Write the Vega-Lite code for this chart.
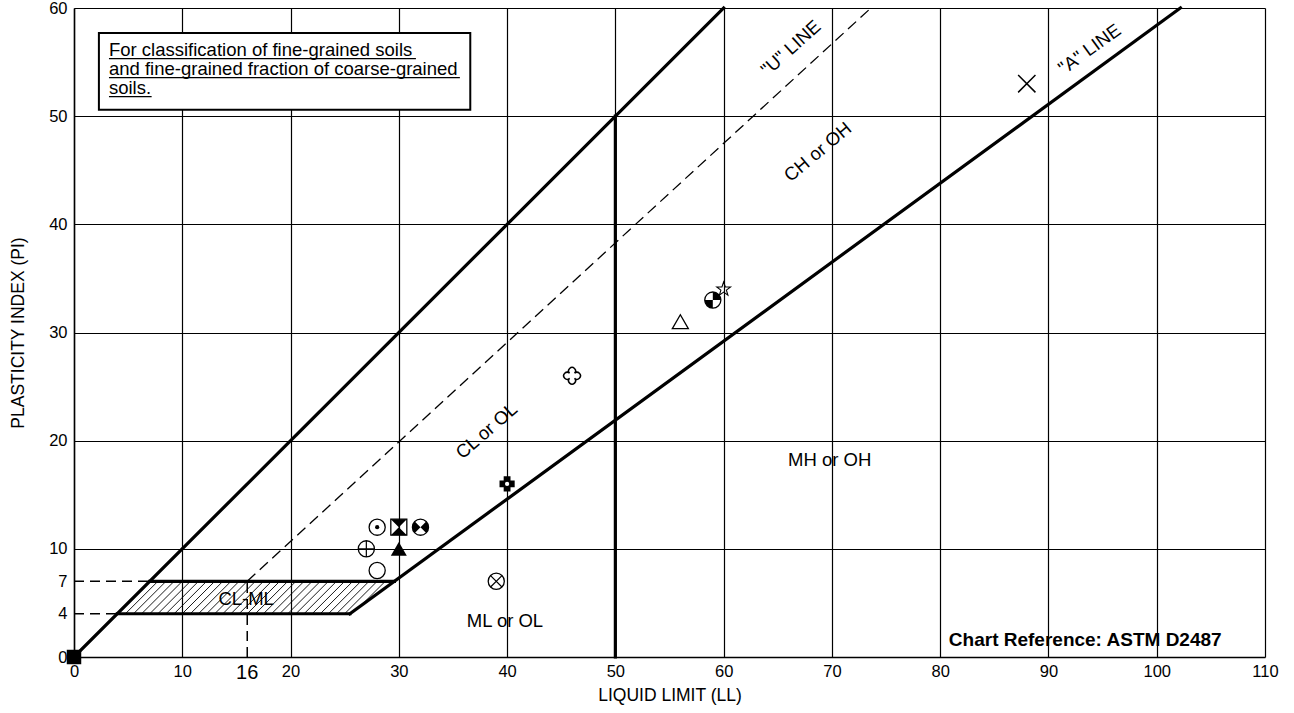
{
  "$schema": "https://vega.github.io/schema/vega-lite/v6.json",
  "width": 1191,
  "height": 649,
  "autosize": {"type": "none"},
  "padding": {"left": 74, "top": 8, "right": 29, "bottom": 56},
  "background": "white",
  "config": {"font": "Liberation Sans", "view": {"stroke": null}},
  "datasets": {
    "samples": [
      {"id": "A", "LL": 0, "PI": 0},
      {"id": "B", "LL": 28, "PI": 12},
      {"id": "C", "LL": 30, "PI": 12},
      {"id": "D", "LL": 32, "PI": 12},
      {"id": "E", "LL": 27, "PI": 10},
      {"id": "F", "LL": 30, "PI": 10},
      {"id": "G", "LL": 28, "PI": 8},
      {"id": "H", "LL": 39, "PI": 7},
      {"id": "I", "LL": 40, "PI": 16},
      {"id": "J", "LL": 46, "PI": 26},
      {"id": "K", "LL": 56, "PI": 31},
      {"id": "L", "LL": 59, "PI": 33},
      {"id": "M", "LL": 60, "PI": 34},
      {"id": "N", "LL": 88, "PI": 53}
    ],
    "lines": [
      {"kind": "thick", "LL": 0, "PI": 0, "LL2": 60, "PI2": 60},
      {"kind": "thick", "LL": 25.48, "PI": 4, "LL2": 102.19, "PI2": 60},
      {"kind": "thick", "LL": 50, "PI": 0, "LL2": 50, "PI2": 50},
      {"kind": "thick", "LL": 4, "PI": 4, "LL2": 25.48, "PI2": 4},
      {"kind": "thick", "LL": 7, "PI": 7, "LL2": 29.59, "PI2": 7},
      {"kind": "guide", "LL": 0, "PI": 7, "LL2": 7, "PI2": 7},
      {"kind": "guide", "LL": 0, "PI": 4, "LL2": 4, "PI2": 4},
      {"kind": "guide", "LL": 16, "PI": 0, "LL2": 16, "PI2": 7},
      {"kind": "uline", "LL": 16, "PI": 7, "LL2": 73.6, "PI2": 60}
    ],
    "hatch": [
      {"LL": 4.75, "PI": 4, "LL2": 7.75, "PI2": 7},
      {"LL": 5.5, "PI": 4, "LL2": 8.5, "PI2": 7},
      {"LL": 6.25, "PI": 4, "LL2": 9.25, "PI2": 7},
      {"LL": 7, "PI": 4, "LL2": 10, "PI2": 7},
      {"LL": 7.75, "PI": 4, "LL2": 10.75, "PI2": 7},
      {"LL": 8.5, "PI": 4, "LL2": 11.5, "PI2": 7},
      {"LL": 9.25, "PI": 4, "LL2": 12.25, "PI2": 7},
      {"LL": 10, "PI": 4, "LL2": 13, "PI2": 7},
      {"LL": 10.75, "PI": 4, "LL2": 13.75, "PI2": 7},
      {"LL": 11.5, "PI": 4, "LL2": 14.5, "PI2": 7},
      {"LL": 12.25, "PI": 4, "LL2": 15.25, "PI2": 7},
      {"LL": 13, "PI": 4, "LL2": 16, "PI2": 7},
      {"LL": 13.75, "PI": 4, "LL2": 16.75, "PI2": 7},
      {"LL": 14.5, "PI": 4, "LL2": 17.5, "PI2": 7},
      {"LL": 15.25, "PI": 4, "LL2": 18.25, "PI2": 7},
      {"LL": 16, "PI": 4, "LL2": 19, "PI2": 7},
      {"LL": 16.75, "PI": 4, "LL2": 19.75, "PI2": 7},
      {"LL": 17.5, "PI": 4, "LL2": 20.5, "PI2": 7},
      {"LL": 18.25, "PI": 4, "LL2": 21.25, "PI2": 7},
      {"LL": 19, "PI": 4, "LL2": 22, "PI2": 7},
      {"LL": 19.75, "PI": 4, "LL2": 22.75, "PI2": 7},
      {"LL": 20.5, "PI": 4, "LL2": 23.5, "PI2": 7},
      {"LL": 21.25, "PI": 4, "LL2": 24.25, "PI2": 7},
      {"LL": 22, "PI": 4, "LL2": 25, "PI2": 7},
      {"LL": 22.75, "PI": 4, "LL2": 25.75, "PI2": 7},
      {"LL": 23.5, "PI": 4, "LL2": 26.5, "PI2": 7},
      {"LL": 24.25, "PI": 4, "LL2": 27.25, "PI2": 7},
      {"LL": 25, "PI": 4, "LL2": 28, "PI2": 7},
      {"LL": 26.48, "PI": 4.73, "LL2": 28.75, "PI2": 7},
      {"LL": 29.26, "PI": 6.76, "LL2": 29.5, "PI2": 7}
    ],
    "box": [
      {"LL": 2.3, "PI": 50.6, "LL2": 36.6, "PI2": 57.7}
    ],
    "boxtext": [
      {"text": "For classification of fine-grained soils", "LL": 3.23, "PI": 55.6},
      {"text": "and fine-grained fraction of coarse-grained", "LL": 3.23, "PI": 53.84},
      {"text": "soils.", "LL": 3.23, "PI": 52.08}
    ],
    "underlines": [
      {"LL": 3.23, "PI": 55.32, "LL2": 31.58, "PI2": 55.32},
      {"LL": 3.23, "PI": 53.56, "LL2": 35.64, "PI2": 53.56},
      {"LL": 3.23, "PI": 51.81, "LL2": 7.17, "PI2": 51.81}
    ],
    "zones": [
      {"text": "CL-ML", "LL": 15.9, "PI": 5.4},
      {"text": "ML or OL", "LL": 39.8, "PI": 3.3},
      {"text": "MH or OH", "LL": 69.8, "PI": 18.2}
    ],
    "clol": [{"text": "CL or OL", "LL": 38.1, "PI": 20.9}],
    "choh": [{"text": "CH or OH", "LL": 68.7, "PI": 46.7}],
    "uline": [{"text": "\"U\" LINE", "LL": 66.2, "PI": 56.3}],
    "aline": [{"text": "\"A\" LINE", "LL": 93.8, "PI": 56.2}],
    "ref": [{"text": "Chart Reference: ASTM D2487", "LL": 80.8, "PI": 1.6}],
    "sixteen": [{"text": "16", "LL": 16, "PI": -1.5}]
  },
  "encoding": {
    "x": {
      "field": "LL", "type": "quantitative",
      "scale": {"domain": [0, 110], "nice": false, "zero": false},
      "axis": {
        "values": [0, 10, 20, 30, 40, 50, 60, 70, 80, 90, 100, 110],
        "grid": true, "gridColor": "#000", "gridWidth": 1.2, "gridOpacity": 1,
        "ticks": false, "domainColor": "#000", "domainWidth": 1.5,
        "labelFontSize": 16.5, "labelColor": "#000", "labelPadding": 6,
        "labelFlush": false, "labelOverlap": false,
        "title": "LIQUID LIMIT (LL)", "titleFontSize": 17.5, "titleFontWeight": "normal",
        "titleColor": "#000", "titlePadding": 7
      }
    },
    "y": {
      "field": "PI", "type": "quantitative",
      "scale": {"domain": [0, 60], "nice": false, "zero": false},
      "axis": {
        "values": [0, 4, 7, 10, 20, 30, 40, 50, 60],
        "grid": true, "gridColor": "#000", "gridWidth": 1.2,
        "gridOpacity": {"condition": {"test": "datum.value == 0 || datum.value == 4 || datum.value == 7", "value": 0}, "value": 1},
        "ticks": false, "domainColor": "#000", "domainWidth": 1.5,
        "labelFontSize": 16.5, "labelColor": "#000", "labelPadding": 7,
        "labelFlush": false, "labelOverlap": false,
        "title": "PLASTICITY INDEX (PI)", "titleFontSize": 17.5, "titleFontWeight": "normal",
        "titleColor": "#000", "titlePadding": 21
      }
    }
  },
  "layer": [
    {
      "data": {"name": "box"},
      "mark": {"type": "rect", "fill": "white", "stroke": "#000", "strokeWidth": 2},
      "encoding": {"x2": {"field": "LL2"}, "y2": {"field": "PI2"}}
    },
    {
      "data": {"name": "hatch"},
      "mark": {"type": "rule", "color": "#000", "strokeWidth": 0.9},
      "encoding": {"x2": {"field": "LL2"}, "y2": {"field": "PI2"}}
    },
    {
      "data": {"name": "lines"},
      "transform": [{"filter": "datum.kind == 'thick'"}],
      "mark": {"type": "rule", "color": "#000", "strokeWidth": 3.2, "strokeCap": "square"},
      "encoding": {"x2": {"field": "LL2"}, "y2": {"field": "PI2"}}
    },
    {
      "data": {"name": "lines"},
      "transform": [{"filter": "datum.kind == 'guide'"}],
      "mark": {"type": "rule", "color": "#000", "strokeWidth": 1.5, "strokeDash": [10, 6]},
      "encoding": {"x2": {"field": "LL2"}, "y2": {"field": "PI2"}}
    },
    {
      "data": {"name": "lines"},
      "transform": [{"filter": "datum.kind == 'uline'"}],
      "mark": {"type": "rule", "color": "#000", "strokeWidth": 1.3, "strokeDash": [11, 6]},
      "encoding": {"x2": {"field": "LL2"}, "y2": {"field": "PI2"}}
    },
    {
      "data": {"name": "underlines"},
      "mark": {"type": "rule", "color": "#000", "strokeWidth": 1.2},
      "encoding": {"x2": {"field": "LL2"}, "y2": {"field": "PI2"}}
    },
    {
      "data": {"name": "boxtext"},
      "mark": {"type": "text", "align": "left", "baseline": "alphabetic", "fontSize": 18.5, "color": "#000"},
      "encoding": {"text": {"field": "text"}}
    },
    {
      "data": {"name": "zones"},
      "mark": {"type": "text", "align": "center", "baseline": "middle", "fontSize": 18.5, "color": "#000"},
      "encoding": {"text": {"field": "text"}}
    },
    {
      "data": {"name": "clol"},
      "mark": {"type": "text", "align": "center", "baseline": "middle", "fontSize": 18.5, "color": "#000", "angle": 319},
      "encoding": {"text": {"field": "text"}}
    },
    {
      "data": {"name": "choh"},
      "mark": {"type": "text", "align": "center", "baseline": "middle", "fontSize": 18.5, "color": "#000", "angle": 320},
      "encoding": {"text": {"field": "text"}}
    },
    {
      "data": {"name": "uline"},
      "mark": {"type": "text", "align": "center", "baseline": "middle", "fontSize": 18.5, "color": "#000", "angle": 318},
      "encoding": {"text": {"field": "text"}}
    },
    {
      "data": {"name": "aline"},
      "mark": {"type": "text", "align": "center", "baseline": "middle", "fontSize": 18.5, "color": "#000", "angle": 324},
      "encoding": {"text": {"field": "text"}}
    },
    {
      "data": {"name": "ref"},
      "mark": {"type": "text", "align": "left", "baseline": "middle", "fontSize": 19, "fontWeight": "bold", "color": "#000"},
      "encoding": {"text": {"field": "text"}}
    },
    {
      "data": {"name": "sixteen"},
      "mark": {"type": "text", "align": "center", "baseline": "middle", "fontSize": 20, "color": "#000"},
      "encoding": {"text": {"field": "text"}}
    },
    {
      "data": {"name": "samples"},
      "transform": [{"filter": "indexof(['B','D','E','G','H','L'], datum.id) >= 0"}],
      "mark": {"type": "point", "shape": "circle", "size": 260, "filled": false, "color": "#000", "strokeWidth": 1.3, "opacity": 1}
    },
    {
      "data": {"name": "samples"},
      "transform": [{"filter": "datum.id == 'B'"}],
      "mark": {"type": "point", "shape": "circle", "size": 18, "filled": true, "color": "#000", "opacity": 1}
    },
    {
      "data": {"name": "samples"},
      "transform": [{"filter": "datum.id == 'E'"}],
      "mark": {"type": "point", "shape": "M-1,0L1,0M0,-1L0,1", "size": 260, "filled": false, "color": "#000", "strokeWidth": 1.2, "opacity": 1}
    },
    {
      "data": {"name": "samples"},
      "transform": [{"filter": "datum.id == 'H'"}],
      "mark": {"type": "point", "shape": "M-0.707,-0.707L0.707,0.707M-0.707,0.707L0.707,-0.707", "size": 260, "filled": false, "color": "#000", "strokeWidth": 1.2, "opacity": 1}
    },
    {
      "data": {"name": "samples"},
      "transform": [{"filter": "datum.id == 'D'"}],
      "mark": {"type": "point", "shape": "M0,0L-0.707,-0.707L-0.92,-0.38L-1,0L-0.92,0.38L-0.707,0.707ZM0,0L0.707,-0.707L0.92,-0.38L1,0L0.92,0.38L0.707,0.707Z", "size": 260, "filled": true, "color": "#000", "opacity": 1}
    },
    {
      "data": {"name": "samples"},
      "transform": [{"filter": "datum.id == 'L'"}],
      "mark": {"type": "point", "shape": "M0,0L0,-1A1,1 0 0,1 1,0ZM0,0L0,1A1,1 0 0,1 -1,0Z", "size": 260, "filled": true, "color": "#000", "opacity": 1}
    },
    {
      "data": {"name": "samples"},
      "transform": [{"filter": "datum.id == 'C'"}],
      "mark": {"type": "point", "shape": "square", "size": 256, "filled": false, "color": "#000", "strokeWidth": 1.3, "opacity": 1}
    },
    {
      "data": {"name": "samples"},
      "transform": [{"filter": "datum.id == 'C'"}],
      "mark": {"type": "point", "shape": "M-1,-1L1,-1L0,0ZM-1,1L1,1L0,0Z", "size": 256, "filled": true, "color": "#000", "opacity": 1}
    },
    {
      "data": {"name": "samples"},
      "transform": [{"filter": "datum.id == 'A'"}],
      "mark": {"type": "point", "shape": "square", "size": 210, "filled": true, "color": "#000", "opacity": 1}
    },
    {
      "data": {"name": "samples"},
      "transform": [{"filter": "datum.id == 'F'"}],
      "mark": {"type": "point", "shape": "triangle-up", "size": 256, "filled": true, "color": "#000", "opacity": 1}
    },
    {
      "data": {"name": "samples"},
      "transform": [{"filter": "datum.id == 'K'"}],
      "mark": {"type": "point", "shape": "triangle-up", "size": 256, "filled": false, "color": "#000", "strokeWidth": 1.3, "opacity": 1}
    },
    {
      "data": {"name": "samples"},
      "transform": [{"filter": "datum.id == 'J'"}],
      "mark": {"type": "point", "shape": "M-0.3,-0.3A0.42,0.42 0 1,1 0.3,-0.3A0.42,0.42 0 1,1 0.3,0.3A0.42,0.42 0 1,1 -0.3,0.3A0.42,0.42 0 1,1 -0.3,-0.3Z", "size": 270, "filled": false, "color": "#000", "strokeWidth": 1.5, "opacity": 1}
    },
    {
      "data": {"name": "samples"},
      "transform": [{"filter": "datum.id == 'M'"}],
      "mark": {"type": "point", "shape": "M0,-1L0.235,-0.324L0.951,-0.309L0.38,0.124L0.588,0.809L0,0.4L-0.588,0.809L-0.38,0.124L-0.951,-0.309L-0.235,-0.324Z", "size": 210, "filled": false, "color": "#000", "strokeWidth": 1.1, "opacity": 1}
    },
    {
      "data": {"name": "samples"},
      "transform": [{"filter": "datum.id == 'N'"}],
      "mark": {"type": "point", "shape": "M-1,-1L1,1M-1,1L1,-1", "size": 300, "filled": false, "color": "#000", "strokeWidth": 1.5, "opacity": 1}
    },
    {
      "data": {"name": "samples"},
      "transform": [{"filter": "datum.id == 'I'"}],
      "mark": {"type": "point", "shape": "M-0.45,-1L0.45,-1L0.45,-0.45L1,-0.45L1,0.45L0.45,0.45L0.45,1L-0.45,1L-0.45,0.45L-1,0.45L-1,-0.45L-0.45,-0.45Z", "size": 230, "filled": true, "color": "#000", "opacity": 1}
    },
    {
      "data": {"name": "samples"},
      "transform": [{"filter": "datum.id == 'I'"}],
      "mark": {"type": "point", "shape": "circle", "size": 18, "filled": true, "color": "white", "opacity": 1}
    }
  ]
}
